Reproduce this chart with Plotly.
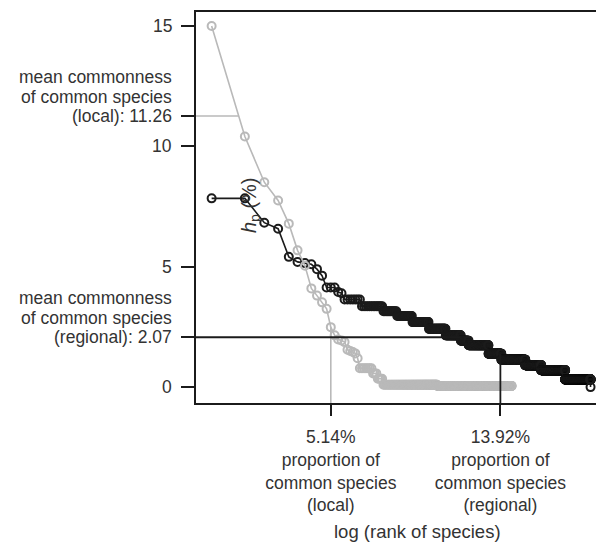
import numpy as np
import plotly.graph_objects as go

# ---------------- data ----------------
# local (grey) series: hp (%) for the first ranks, then plateaus of equal hp
local_head_hp = [15.0, 10.41, 8.51, 7.75, 6.79, 5.68, 5.04, 4.10, 3.80, 3.52,
                 3.25, 2.49, 2.15, 1.98, 1.94, 1.87, 1.55, 1.50, 1.46, 1.40, 1.20]
local_block_start = [22, 29, 32, 36, 111]
local_block_end = [28, 31, 35, 110, 520]
local_block_hp = [0.78, 0.57, 0.35, 0.10, 0.05]

# regional (black) series
regional_head_hp = [7.84, 7.84, 6.83, 6.58, 5.41, 5.20, 5.15, 5.10, 4.90, 4.63,
                    4.14, 4.14, 4.14, 3.95, 3.90]
regional_block_start = [16, 23, 36, 48, 66, 93, 132, 181, 213, 322, 421, 693, 966, 1590, 2700]
regional_block_end = [22, 35, 47, 65, 92, 131, 180, 212, 321, 420, 692, 965, 1589, 2699, 2700]
regional_block_hp = [3.64, 3.36, 3.15, 2.95, 2.70, 2.42, 2.15, 1.93, 1.74, 1.39, 1.14, 0.91,
                     0.70, 0.32, 0.0]

local_mean_commonness = 11.26
regional_mean_commonness = 2.07
local_proportion = 5.14
regional_proportion = 13.92
local_threshold_rank = 12
regional_threshold_rank = 412

y_tick_values = [0, 5, 10, 15]

GREY = "#b9b9b9"
BLACK = "#1b1b1b"
TEXT = "#333333"
FONT = "Liberation Sans, Arial, Helvetica, sans-serif"

X_RANGE = [-0.1415, 3.517]   # log10(rank)
Y_RANGE = [-0.66, 15.58]


def expand(head, starts, ends, hps):
    ranks = list(range(1, len(head) + 1))
    vals = list(head)
    for s, e, h in zip(starts, ends, hps):
        for r in range(s, e + 1):
            ranks.append(r)
            vals.append(h)
    return np.array(ranks, dtype=float), np.array(vals, dtype=float)


def crossing(ranks, hp, level):
    for i in range(len(hp) - 1):
        if hp[i] >= level > hp[i + 1]:
            t = (hp[i] - level) / (hp[i] - hp[i + 1])
            a, b = np.log10(ranks[i]), np.log10(ranks[i + 1])
            return 10 ** (a + t * (b - a))
    return ranks[-1]


loc_r, loc_hp = expand(local_head_hp, local_block_start, local_block_end, local_block_hp)
reg_r, reg_hp = expand(regional_head_hp, regional_block_start, regional_block_end, regional_block_hp)

x_left = 10 ** X_RANGE[0]
loc_cross = crossing(loc_r, loc_hp, local_mean_commonness)
reg_cross = crossing(reg_r, reg_hp, regional_mean_commonness)
loc_thr_hp = loc_hp[list(loc_r).index(local_threshold_rank)]
reg_thr_hp = reg_hp[list(reg_r).index(regional_threshold_rank)]

fig = go.Figure()

marker_common = dict(symbol="circle-open", size=8)

fig.add_trace(go.Scatter(
    x=reg_r, y=reg_hp, mode="lines+markers",
    line=dict(color=BLACK, width=1.6),
    marker=dict(color=BLACK, line=dict(color=BLACK, width=2), **marker_common),
    name="regional", hoverinfo="x+y"))

fig.add_trace(go.Scatter(
    x=loc_r, y=loc_hp, mode="lines+markers",
    line=dict(color=GREY, width=1.6),
    marker=dict(color=GREY, line=dict(color=GREY, width=2), **marker_common),
    name="local", hoverinfo="x+y"))

# reference lines
fig.add_trace(go.Scatter(x=[x_left, loc_cross], y=[local_mean_commonness] * 2, mode="lines",
                         line=dict(color=GREY, width=1.6), hoverinfo="skip"))
fig.add_trace(go.Scatter(x=[local_threshold_rank] * 2, y=[Y_RANGE[0], loc_thr_hp], mode="lines",
                         line=dict(color=GREY, width=1.6), hoverinfo="skip"))
fig.add_trace(go.Scatter(x=[x_left, reg_cross], y=[regional_mean_commonness] * 2, mode="lines",
                         line=dict(color=BLACK, width=1.8), hoverinfo="skip"))
fig.add_trace(go.Scatter(x=[regional_threshold_rank] * 2, y=[Y_RANGE[0], reg_thr_hp], mode="lines",
                         line=dict(color=BLACK, width=1.8), hoverinfo="skip"))

ytv = sorted(y_tick_values + [local_mean_commonness, regional_mean_commonness])

xtv = [local_threshold_rank, regional_threshold_rank]
xtt = [f"{local_proportion:.2f}%<br>proportion of<br>common species<br>(local)",
       f"{regional_proportion:.2f}%<br>proportion of<br>common species<br>(regional)"]

LABEL_SIZE = 17.5
LABEL_SHIFT = -22

annotations = []


def ylabel(txt, val, shift=0):
    annotations.append(dict(
        text=txt, xref="paper", yref="y", x=0, y=val, xanchor="right", yanchor="middle",
        xshift=LABEL_SHIFT, yshift=shift, showarrow=False, align="right",
        font=dict(family=FONT, size=LABEL_SIZE, color=TEXT)))


for v in y_tick_values:
    ylabel(str(v), v)
ylabel(f"(local): {local_mean_commonness:.2f}", local_mean_commonness)
ylabel(f"(regional): {regional_mean_commonness:.2f}", regional_mean_commonness)
for val in (local_mean_commonness, regional_mean_commonness):
    ylabel("mean commonness", val, 39)
    ylabel("of common species", val, 19.5)

annotations.append(dict(
    text="log (rank of species)", xref="paper", yref="paper", x=0.548, y=-0.328,
    xanchor="center", yanchor="middle", showarrow=False,
    font=dict(family=FONT, size=18.5, color=TEXT)))
annotations.append(dict(
    text="<i>h</i><sub>p</sub> (%)", xref="paper", yref="paper", x=0.135, y=0.505,
    xanchor="center", yanchor="middle", textangle=-90, showarrow=False,
    font=dict(family=FONT, size=20, color=TEXT)))

axis_common = dict(showgrid=False, zeroline=False, showline=True, linecolor=BLACK, linewidth=2,
                   mirror=True, ticks="outside", tickwidth=2, tickcolor=BLACK,
                   tickfont=dict(family=FONT, size=LABEL_SIZE, color=TEXT))

# the page adds an 8px body margin, so the figure is 8px smaller than the window
fig.update_layout(
    width=596, height=535,
    margin=dict(l=188, r=2, t=2, b=140),
    paper_bgcolor="white", plot_bgcolor="white",
    showlegend=False,
    font=dict(family=FONT, color=TEXT),
    xaxis=dict(type="log", range=X_RANGE, tickmode="array", tickvals=xtv, ticktext=xtt,
               ticklen=11, ticklabelstandoff=6, **axis_common),
    yaxis=dict(range=Y_RANGE, tickmode="array", tickvals=ytv, showticklabels=False,
               ticklen=13, **axis_common),
    annotations=annotations,
)

fig.write_html("out.html")
